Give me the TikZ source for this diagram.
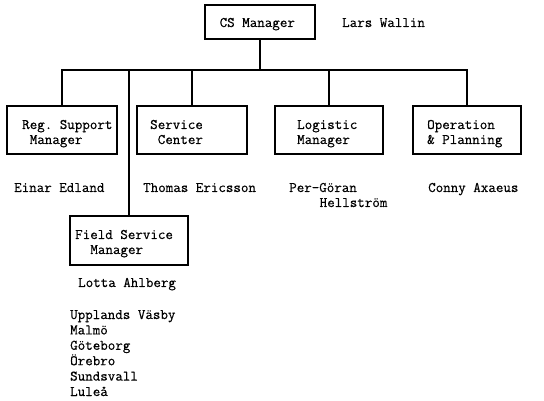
\documentclass[tikz,border=0pt]{standalone}
\usepackage{fontspec}
\setmonofont{Latin Modern Mono}[FakeBold=0.5]
\begin{document}
\begin{tikzpicture}[x=1pt,y=-1pt,
  box/.style={draw, line width=2pt, minimum width=#1, minimum height=48pt, inner sep=0pt},
  txt/.style={anchor=base west, inner sep=0pt, font=\ttfamily\fontsize{14.6}{16}\selectfont},
  conn/.style={line width=1.9pt}]
\useasboundingbox (0,0) rectangle (544,401);
% top box
\node[box=110pt, minimum height=34pt] (cs) at (260,22) {};
\node[txt] (csT) at (219.5,27) {CS Manager};
\node[txt] (lars) at (342,27) {Lars Wallin};
% second row boxes
\node[box=110pt] (reg) at (62,130) {};
\node[box=110pt] (svc) at (192,130) {};
\node[box=108pt] (log) at (329,130) {};
\node[box=108pt] (ops) at (467,130) {};
\node[box=118pt, minimum height=49pt] (field) at (129,240.5) {};
% bus
\coordinate (bus) at (260,70);
\draw[conn] (cs.south) -- (bus);
\draw[conn] (reg.north) -- (reg.north |- bus) -- (ops.north |- bus) -- (ops.north);
\draw[conn] (svc.north) -- (svc.north |- bus);
\draw[conn] (log.north) -- (log.north |- bus);
\draw[conn] (field.north) -- (field.north |- bus);
% box texts
\node[txt] (regA) at (22,129) {Reg. Support};
\node[txt] (regB) at (29.6,144) {Manager};
\node[txt] (svcA) at (150,129) {Service};
\node[txt] (svcB) at (157.6,144) {Center};
\node[txt] (logA) at (297,129) {Logistic};
\node[txt] (logB) at (297,144) {Manager};
\node[txt] (opsA) at (427,129) {Operation};
\node[txt] (opsB) at (427,144) {\& Planning};
\node[txt] (fldA) at (75,239) {Field Service};
\node[txt] (fldB) at (90.2,254) {Manager};
% names
\node[txt] (einar) at (14,192) {Einar Edland};
\node[txt] (thomas) at (143,192) {Thomas Ericsson};
\node[txt] (per) at (289,192) {Per-Göran};
\node[txt] (hell) at (319.5,207) {Hellström};
\node[txt] (conny) at (428,192) {Conny Axaeus};
\node[txt] (lotta) at (78,287) {Lotta Ahlberg};
% cities
\node[txt] (c1) at (70,319) {Upplands Väsby};
\node[txt] (c2) at (70,334.4) {Malmö};
\node[txt] (c3) at (70,349.8) {Göteborg};
\node[txt] (c4) at (70,365.2) {Örebro};
\node[txt] (c5) at (70,380.6) {Sundsvall};
\node[txt] (c6) at (70,396) {Luleå};
\end{tikzpicture}
\end{document}
